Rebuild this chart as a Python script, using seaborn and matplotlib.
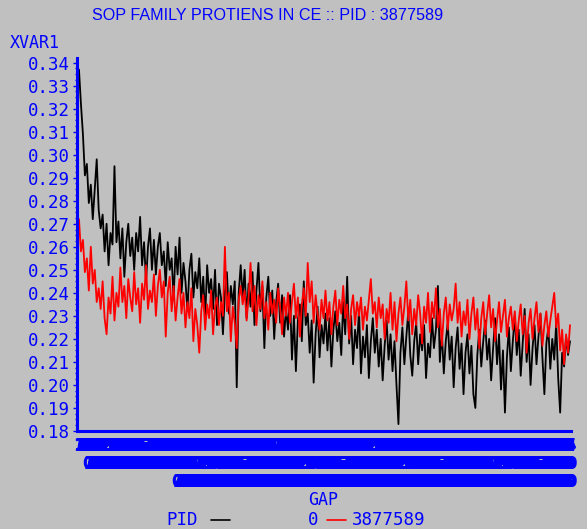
import numpy as np
import seaborn as sns
import matplotlib.pyplot as plt
from matplotlib.lines import Line2D
from matplotlib.ticker import MultipleLocator, FormatStrFormatter

# GAP positions of the plotted points (every second GAP value)
gap = list(range(1, 500, 2))

# PID 0 (black)
xvar_pid0 = [
    0.337, 0.322, 0.309, 0.291, 0.296, 0.279, 0.287, 0.272, 0.285, 0.298,
    0.276, 0.268, 0.274, 0.258, 0.270, 0.252, 0.266, 0.261, 0.295, 0.262,
    0.271, 0.255, 0.268, 0.247, 0.262, 0.270, 0.256, 0.264, 0.250, 0.266,
    0.258, 0.273, 0.252, 0.262, 0.245, 0.260, 0.268, 0.250, 0.263, 0.248,
    0.260, 0.266, 0.252, 0.258, 0.243, 0.262, 0.250, 0.255, 0.237, 0.260,
    0.248, 0.264, 0.240, 0.253, 0.245, 0.232, 0.250, 0.257, 0.238, 0.249,
    0.242, 0.255, 0.236, 0.247, 0.229, 0.252, 0.240, 0.246, 0.233, 0.250,
    0.226, 0.244, 0.238, 0.222, 0.240, 0.249, 0.231, 0.243, 0.235, 0.245,
    0.199, 0.240, 0.252, 0.238, 0.250, 0.229, 0.244, 0.234, 0.249, 0.226,
    0.241, 0.253, 0.232, 0.243, 0.216, 0.238, 0.247, 0.230, 0.241, 0.220,
    0.236, 0.244, 0.227, 0.239, 0.221, 0.233, 0.224, 0.239, 0.211, 0.230,
    0.206, 0.228, 0.235, 0.219, 0.245, 0.226, 0.231, 0.214, 0.228, 0.201,
    0.222, 0.234, 0.212, 0.226, 0.218, 0.231, 0.215, 0.229, 0.208, 0.224,
    0.232, 0.219, 0.227, 0.213, 0.236, 0.222, 0.247, 0.218, 0.230, 0.209,
    0.224, 0.216, 0.233, 0.205, 0.221, 0.212, 0.226, 0.203, 0.219, 0.229,
    0.214, 0.224, 0.208, 0.220, 0.202, 0.217, 0.228, 0.211, 0.222, 0.206,
    0.219, 0.200, 0.183, 0.214, 0.225, 0.209, 0.221, 0.232, 0.213, 0.204,
    0.219, 0.227, 0.209, 0.222, 0.215, 0.226, 0.203, 0.218, 0.212, 0.229,
    0.216, 0.224, 0.243, 0.210, 0.223, 0.205, 0.219, 0.227, 0.211, 0.221,
    0.199, 0.216, 0.225, 0.207, 0.218, 0.196, 0.214, 0.222, 0.205, 0.217,
    0.196, 0.190, 0.213, 0.224, 0.208, 0.219, 0.228, 0.211, 0.220, 0.202,
    0.216, 0.229, 0.209, 0.222, 0.198, 0.215, 0.188, 0.212, 0.225, 0.206,
    0.219, 0.230, 0.213, 0.224, 0.204, 0.218, 0.233, 0.210, 0.222, 0.200,
    0.216, 0.226, 0.209, 0.221, 0.231, 0.212, 0.196, 0.218, 0.225, 0.207,
    0.220, 0.211, 0.227, 0.203, 0.188, 0.214, 0.208, 0.221, 0.213, 0.219,
]

# PID 3877589 (red)
xvar_pid3877589 = [
    0.272, 0.258, 0.263, 0.249, 0.255, 0.241, 0.260, 0.244, 0.250, 0.236,
    0.242, 0.233, 0.245, 0.229, 0.222, 0.238, 0.231, 0.247, 0.228, 0.240,
    0.234, 0.251, 0.236, 0.243, 0.229, 0.246, 0.238, 0.232, 0.249, 0.235,
    0.242, 0.227, 0.244, 0.237, 0.252, 0.233, 0.241, 0.236, 0.248, 0.230,
    0.243, 0.250, 0.238, 0.245, 0.221, 0.240, 0.247, 0.232, 0.243, 0.228,
    0.238, 0.246, 0.231, 0.240, 0.225, 0.236, 0.229, 0.242, 0.219, 0.233,
    0.226, 0.214, 0.232, 0.239, 0.224, 0.235, 0.229, 0.241, 0.222, 0.234,
    0.238, 0.226, 0.236, 0.230, 0.260, 0.232, 0.240, 0.219, 0.234, 0.227,
    0.216, 0.237, 0.243, 0.235, 0.241, 0.228, 0.238, 0.253, 0.232, 0.243,
    0.226, 0.239, 0.233, 0.245, 0.229, 0.236, 0.224, 0.240, 0.231, 0.237,
    0.227, 0.242, 0.234, 0.222, 0.238, 0.230, 0.240, 0.227, 0.236, 0.244,
    0.229, 0.238, 0.221, 0.235, 0.242, 0.230, 0.253, 0.236, 0.245, 0.227,
    0.239, 0.231, 0.224, 0.237, 0.229, 0.241, 0.228, 0.236, 0.222, 0.234,
    0.241, 0.226, 0.237, 0.231, 0.243, 0.229, 0.235, 0.220, 0.233, 0.239,
    0.226, 0.236, 0.230, 0.238, 0.224, 0.234, 0.228, 0.237, 0.246, 0.231,
    0.236, 0.225, 0.238, 0.229, 0.235, 0.220, 0.233, 0.227, 0.240, 0.224,
    0.236, 0.219, 0.231, 0.238, 0.226, 0.234, 0.245, 0.228, 0.237, 0.222,
    0.233, 0.226, 0.239, 0.231, 0.218, 0.234, 0.227, 0.240, 0.223, 0.236,
    0.229, 0.242, 0.225, 0.233, 0.217, 0.231, 0.238, 0.224, 0.235, 0.228,
    0.233, 0.244, 0.227, 0.236, 0.221, 0.232, 0.226, 0.237, 0.220, 0.231,
    0.238, 0.224, 0.233, 0.216, 0.229, 0.236, 0.222, 0.231, 0.239, 0.225,
    0.233, 0.219, 0.228, 0.236, 0.223, 0.230, 0.237, 0.221, 0.229, 0.234,
    0.224, 0.232, 0.219, 0.228, 0.235, 0.222, 0.230, 0.214, 0.227, 0.233,
    0.220, 0.229, 0.236, 0.223, 0.231, 0.217, 0.226, 0.232, 0.221, 0.228,
    0.234, 0.240, 0.225, 0.231, 0.215, 0.224, 0.209, 0.222, 0.214, 0.226,
]

# every GAP value gets a tick, digits stacked vertically
gap_ticks = list(range(1, 501))
gap_tick_labels = ["\n".join(str(g)) for g in gap_ticks]

y_ticks = [0.18, 0.19, 0.20, 0.21, 0.22, 0.23, 0.24, 0.25, 0.26,
           0.27, 0.28, 0.29, 0.30, 0.31, 0.32, 0.33, 0.34]

legend_title = "PID"
legend_labels = ["0", "3877589"]

bg = "#c0c0c0"
blue = "#0000ff"

sns.set_style("white")
fig = plt.figure(figsize=(5.87, 5.29), dpi=100, facecolor=bg)
ax = fig.add_axes([77 / 587, 1 - 431 / 529, (571 - 77) / 587, (431 - 58) / 529])
ax.set_facecolor(bg)

sns.lineplot(x=gap, y=xvar_pid0, color="black", linewidth=1.3, ax=ax)
sns.lineplot(x=gap, y=xvar_pid3877589, color="red", linewidth=1.3, ax=ax)

ax.set_xlim(-1, 500)
ax.set_ylim(0.18, 0.342)

ax.set_yticks(y_ticks)
ax.yaxis.set_major_formatter(FormatStrFormatter("%.2f"))
ax.yaxis.set_minor_locator(MultipleLocator(0.0025))
ax.tick_params(axis="y", which="major", direction="out", length=3, width=1,
               color=blue, labelcolor=blue, labelsize=12.5, pad=2,
               labelfontfamily="DejaVu Sans Mono", left=True)
ax.tick_params(axis="y", which="minor", direction="out", length=1.5, width=1,
               color=blue, left=True)

ax.set_xticks(gap_ticks)
ax.set_xticklabels(gap_tick_labels, fontsize=12, fontweight="bold",
                   color=blue, linespacing=1.0)
ax.tick_params(axis="x", length=0, pad=4)

for side in ["top", "right"]:
    ax.spines[side].set_visible(False)
for side in ["left", "bottom"]:
    ax.spines[side].set_color(blue)
    ax.spines[side].set_linewidth(2.2)

ax.set_xlabel("")
ax.set_ylabel("")

fig.text(268 / 587, 1 - 16 / 529, "SOP FAMILY PROTIENS IN CE :: PID : 3877589",
         ha="center", va="center", color=blue, fontsize=11.6,
         family="Liberation Sans")
fig.text(10 / 587, 1 - 43 / 529, "XVAR1", ha="left", va="center", color=blue,
         fontsize=12, family="DejaVu Sans Mono")
fig.text(323 / 587, 1 - 500 / 529, "GAP", ha="center", va="center", color=blue,
         fontsize=12, family="DejaVu Sans Mono")

# legend row at the bottom
ly = 1 - 520 / 529
fig.text(166 / 587, ly, legend_title, ha="left", va="center", color=blue,
         fontsize=12.5, family="DejaVu Sans Mono")
fig.add_artist(Line2D([211 / 587, 230 / 587], [ly, ly], color="black", lw=1.2))
fig.text(308 / 587, ly, legend_labels[0], ha="left", va="center", color=blue,
         fontsize=12.5, family="DejaVu Sans Mono")
fig.add_artist(Line2D([327 / 587, 346 / 587], [ly, ly], color="red", lw=1.2))
fig.text(352 / 587, ly, legend_labels[1], ha="left", va="center", color=blue,
         fontsize=12.5, family="DejaVu Sans Mono")

fig.savefig("out.png", dpi=100, facecolor=bg)
